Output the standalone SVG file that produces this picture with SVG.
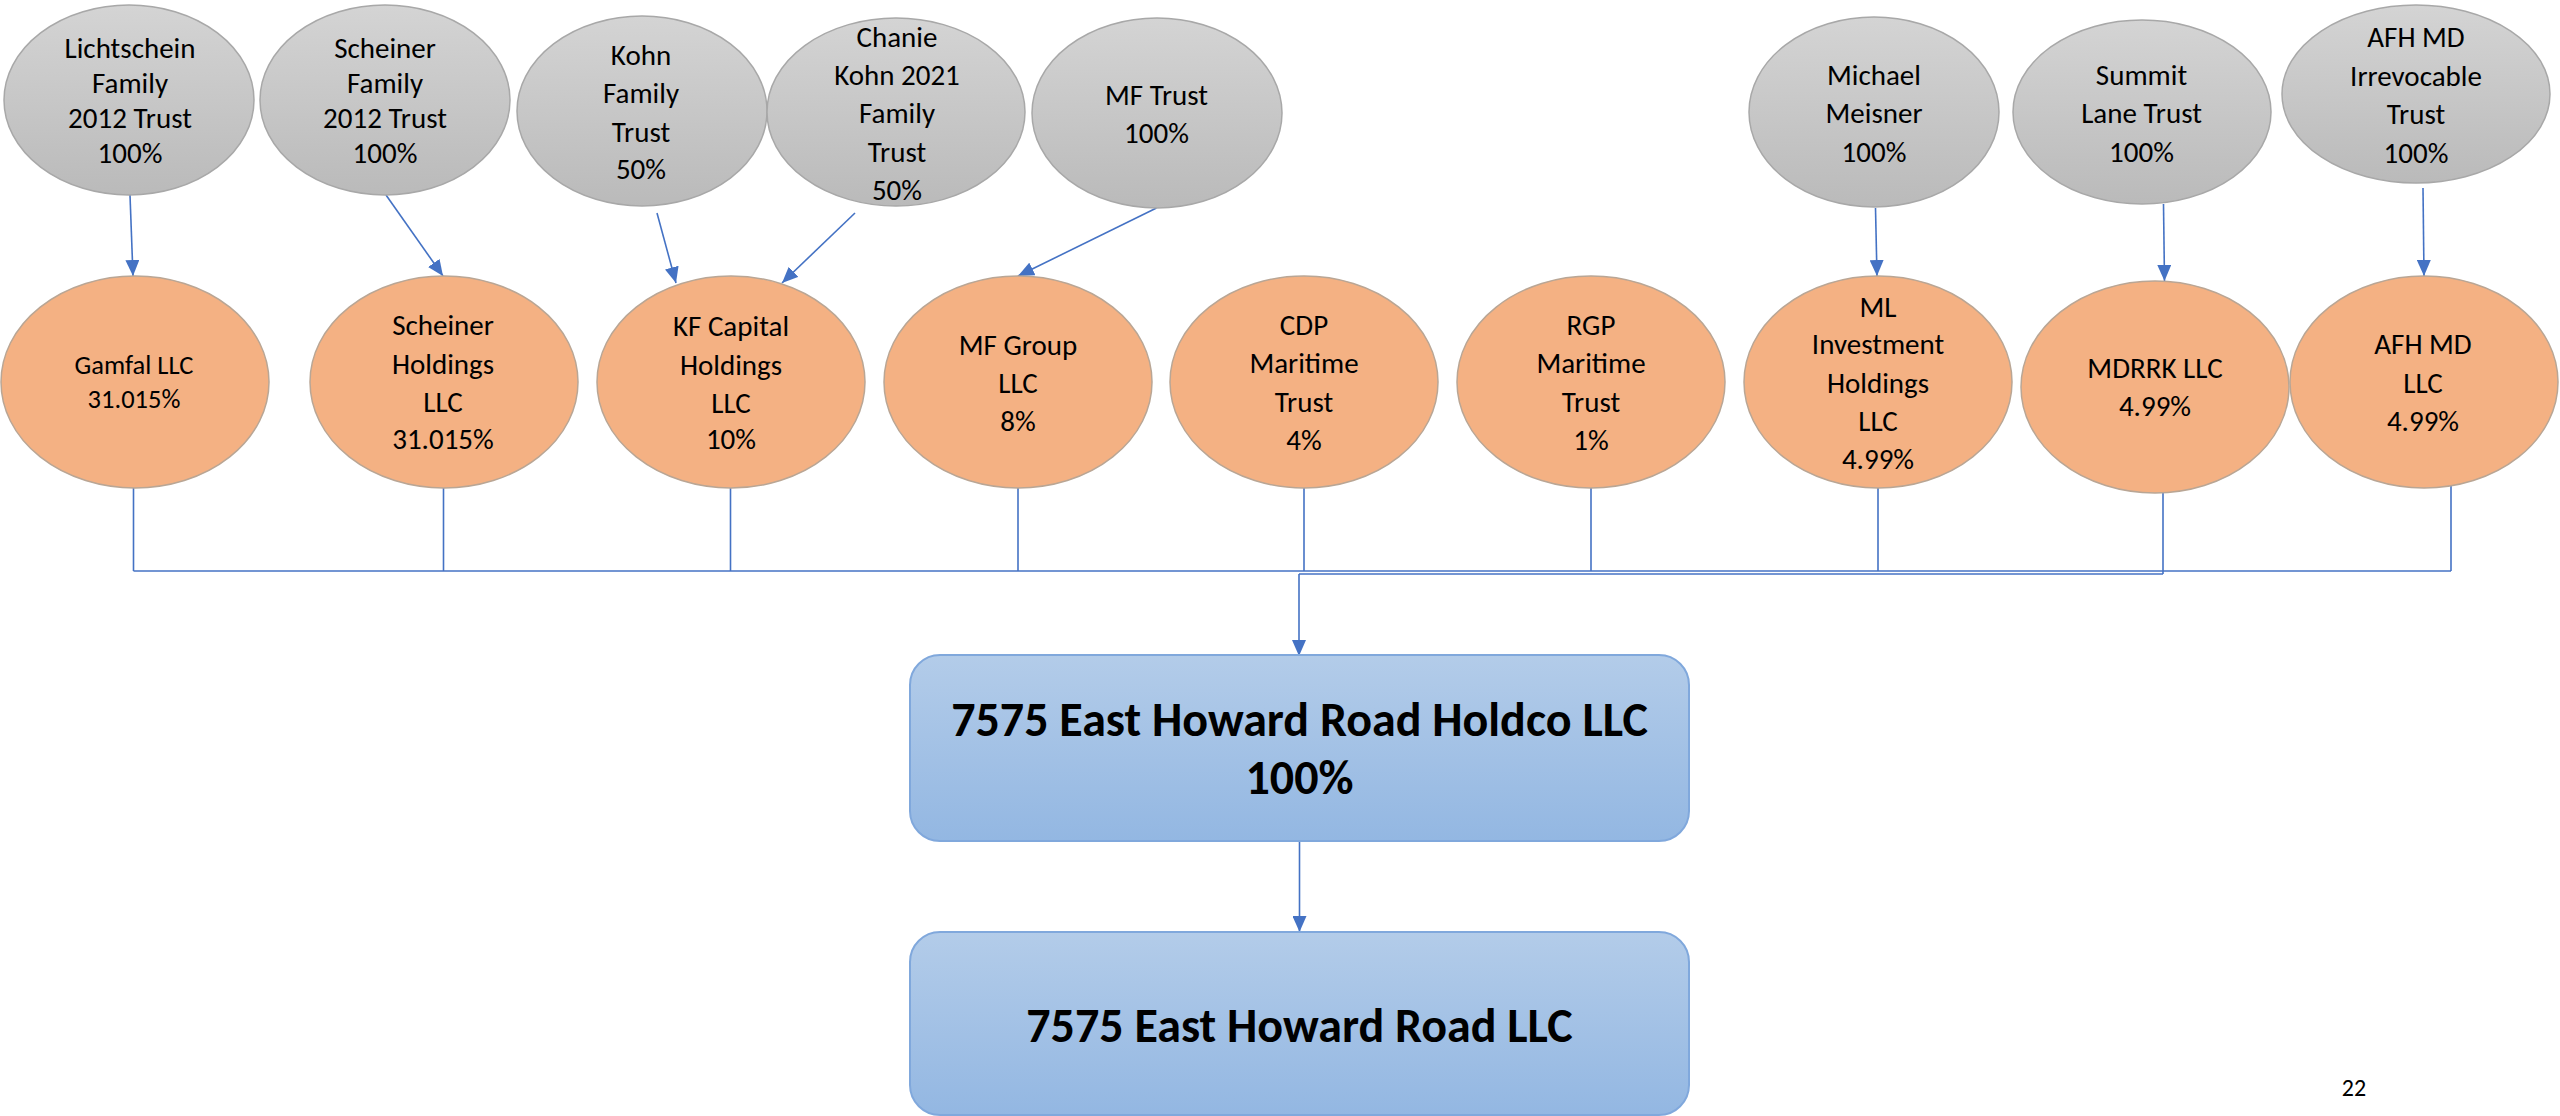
<svg xmlns="http://www.w3.org/2000/svg" width="2560" height="1116" viewBox="0 0 2560 1116">
<defs>
<linearGradient id="gGray" x1="0" y1="0" x2="0" y2="1"><stop offset="0" stop-color="#d4d4d4"/><stop offset="1" stop-color="#bababa"/></linearGradient>
<linearGradient id="gBlue" x1="0" y1="0" x2="0" y2="1"><stop offset="0" stop-color="#b3cce9"/><stop offset="1" stop-color="#93b7e2"/></linearGradient>
<marker id="ah" markerWidth="16" markerHeight="14" refX="16" refY="7" orient="auto" markerUnits="userSpaceOnUse"><path d="M0,0 L16,7 L0,14 z" fill="#4472c4"/></marker>
<style>
.gray{fill:url(#gGray);stroke:#a8a8a8;stroke-width:1.5}
.org{fill:#f4b183;stroke:#b9a695;stroke-width:1.5}
.box{fill:url(#gBlue);stroke:#80a8dc;stroke-width:2}
text{font-family:Carlito,Lato,"Liberation Sans",sans-serif;fill:#000;text-anchor:middle}
.t{font-size:29px}
.s{font-size:26.5px}
.b{font-size:48px;font-weight:bold}
.c line{stroke:#4472c4;stroke-width:1.6;fill:none}
.a{marker-end:url(#ah)}
</style>
</defs>
<rect width="2560" height="1116" fill="#fff"/>

<g class="c">
<line class="a" x1="130" y1="195" x2="133" y2="276"/>
<line class="a" x1="386" y1="195" x2="443" y2="276"/>
<line class="a" x1="657" y1="213" x2="676" y2="283"/>
<line class="a" x1="855" y1="213" x2="782" y2="283"/>
<line class="a" x1="1156.5" y1="208" x2="1018" y2="276"/>
<line class="a" x1="1875.5" y1="208" x2="1877" y2="276"/>
<line class="a" x1="2163.5" y1="204" x2="2164.5" y2="281"/>
<line class="a" x1="2423" y1="188" x2="2424" y2="276"/>
<line x1="133.5" y1="487" x2="133.5" y2="571"/>
<line x1="443.5" y1="487" x2="443.5" y2="571"/>
<line x1="730.5" y1="487" x2="730.5" y2="571"/>
<line x1="1018" y1="487" x2="1018" y2="571"/>
<line x1="1304" y1="487" x2="1304" y2="571"/>
<line x1="1591" y1="487" x2="1591" y2="571"/>
<line x1="1878" y1="487" x2="1878" y2="571"/>
<line x1="2451" y1="486" x2="2451" y2="571"/>
<line x1="2163" y1="492" x2="2163" y2="574"/>
<line x1="133.5" y1="571" x2="2451" y2="571"/>
<line x1="1299" y1="574" x2="2163" y2="574"/>
<line class="a" x1="1299" y1="574" x2="1299" y2="656"/>
<line class="a" x1="1299.5" y1="841" x2="1299.5" y2="932"/>
</g>

<g id="lichtschein"><ellipse class="gray" cx="129" cy="100" rx="125" ry="95"/>
<text class="t" x="130" y="58">Lichtschein</text><text class="t" x="130" y="93">Family</text><text class="t" x="130" y="128">2012 Trust</text><text class="t" x="130" y="163">100%</text></g>
<g id="scheiner-family"><ellipse class="gray" cx="385" cy="100" rx="125" ry="95"/>
<text class="t" x="385" y="58">Scheiner</text><text class="t" x="385" y="93">Family</text><text class="t" x="385" y="128">2012 Trust</text><text class="t" x="385" y="163">100%</text></g>
<g id="kohn-family"><ellipse class="gray" cx="642" cy="111" rx="125" ry="95"/>
<text class="t" x="641" y="65">Kohn</text><text class="t" x="641" y="103">Family</text><text class="t" x="641" y="142">Trust</text><text class="t" x="641" y="179">50%</text></g>
<g id="chanie"><ellipse class="gray" cx="896" cy="112" rx="129" ry="94"/>
<text class="t" x="897" y="47">Chanie</text><text class="t" x="897" y="85">Kohn 2021</text><text class="t" x="897" y="123">Family</text><text class="t" x="897" y="162">Trust</text><text class="t" x="897" y="200">50%</text></g>
<g id="mf-trust"><ellipse class="gray" cx="1157" cy="113" rx="125" ry="95"/>
<text class="t" x="1156.5" y="105">MF Trust</text><text class="t" x="1156.5" y="143">100%</text></g>
<g id="meisner"><ellipse class="gray" cx="1874" cy="112" rx="125" ry="95"/>
<text class="t" x="1874" y="85">Michael</text><text class="t" x="1874" y="123">Meisner</text><text class="t" x="1874" y="162">100%</text></g>
<g id="summit"><ellipse class="gray" cx="2142" cy="112" rx="129" ry="92"/>
<text class="t" x="2141.5" y="85">Summit</text><text class="t" x="2141.5" y="123">Lane Trust</text><text class="t" x="2141.5" y="162">100%</text></g>
<g id="afh-irrevocable"><ellipse class="gray" cx="2416" cy="94" rx="134" ry="89"/>
<text class="t" x="2416" y="47">AFH MD</text><text class="t" x="2416" y="86">Irrevocable</text><text class="t" x="2416" y="124">Trust</text><text class="t" x="2416" y="163">100%</text></g>

<g id="gamfal"><ellipse class="org" cx="135" cy="382" rx="134" ry="106"/>
<text class="s" x="134" y="374">Gamfal LLC</text><text class="s" x="134" y="408">31.015%</text></g>
<g id="scheiner-holdings"><ellipse class="org" cx="444" cy="382" rx="134" ry="106"/>
<text class="t" x="443" y="335">Scheiner</text><text class="t" x="443" y="374">Holdings</text><text class="t" x="443" y="412">LLC</text><text class="t" x="443" y="449">31.015%</text></g>
<g id="kf-capital"><ellipse class="org" cx="731" cy="382" rx="134" ry="106"/>
<text class="t" x="731" y="336">KF Capital</text><text class="t" x="731" y="375">Holdings</text><text class="t" x="731" y="413">LLC</text><text class="t" x="731" y="449">10%</text></g>
<g id="mf-group"><ellipse class="org" cx="1018" cy="382" rx="134" ry="106"/>
<text class="t" x="1018" y="355">MF Group</text><text class="t" x="1018" y="393">LLC</text><text class="t" x="1018" y="431">8%</text></g>
<g id="cdp"><ellipse class="org" cx="1304" cy="382" rx="134" ry="106"/>
<text class="t" x="1304" y="335">CDP</text><text class="t" x="1304" y="373">Maritime</text><text class="t" x="1304" y="412">Trust</text><text class="t" x="1304" y="450">4%</text></g>
<g id="rgp"><ellipse class="org" cx="1591" cy="382" rx="134" ry="106"/>
<text class="t" x="1591" y="335">RGP</text><text class="t" x="1591" y="373">Maritime</text><text class="t" x="1591" y="412">Trust</text><text class="t" x="1591" y="450">1%</text></g>
<g id="ml-investment"><ellipse class="org" cx="1878" cy="382" rx="134" ry="106"/>
<text class="t" x="1878" y="317">ML</text><text class="t" x="1878" y="354">Investment</text><text class="t" x="1878" y="393">Holdings</text><text class="t" x="1878" y="431">LLC</text><text class="t" x="1878" y="469">4.99%</text></g>
<g id="mdrrk"><ellipse class="org" cx="2155" cy="387" rx="134" ry="106"/>
<text class="t" x="2155" y="378">MDRRK LLC</text><text class="t" x="2155" y="416">4.99%</text></g>
<g id="afh-llc"><ellipse class="org" cx="2424" cy="382" rx="134" ry="106"/>
<text class="t" x="2423" y="354">AFH MD</text><text class="t" x="2423" y="393">LLC</text><text class="t" x="2423" y="431">4.99%</text></g>

<g id="holdco"><rect class="box" x="910" y="655" width="779" height="186" rx="30"/>
<text class="b" x="1299.5" y="736">7575 East Howard Road Holdco LLC</text><text class="b" x="1299.5" y="794">100%</text></g>
<g id="road-llc"><rect class="box" x="910" y="932" width="779" height="183" rx="30"/>
<text class="b" x="1299.5" y="1042">7575 East Howard Road LLC</text></g>

<text x="2354" y="1096" style="font-size:24px">22</text>
</svg>
